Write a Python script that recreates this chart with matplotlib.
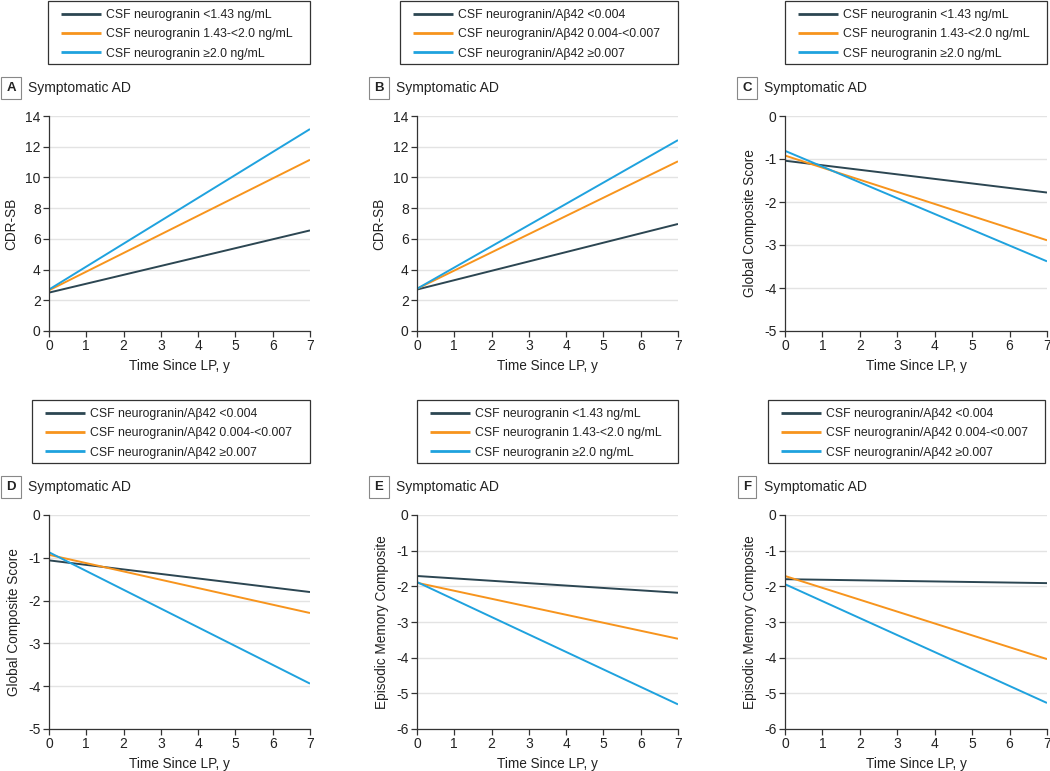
import matplotlib
matplotlib.use("Agg")
import matplotlib.pyplot as plt
import matplotlib.patches as mpatches

plt.rcParams['font.family'] = ['Liberation Sans', 'DejaVu Sans']
plt.rcParams['axes.unicode_minus'] = False

# time since LP (years), fitted trajectories
years = [0, 7]

ng_labels = ["CSF neurogranin <1.43 ng/mL",
             "CSF neurogranin 1.43-<2.0 ng/mL",
             "CSF neurogranin \u22652.0 ng/mL"]
ratio_labels = ["CSF neurogranin/A\u03b242 <0.004",
                "CSF neurogranin/A\u03b242 0.004-<0.007",
                "CSF neurogranin/A\u03b242 \u22650.007"]

# A: CDR-SB by neurogranin
a_low = [2.5, 6.55]
a_mid = [2.65, 11.15]
a_high = [2.7, 13.15]
# B: CDR-SB by neurogranin/Ab42
b_low = [2.7, 6.97]
b_mid = [2.75, 11.05]
b_high = [2.75, 12.43]
# C: global composite by neurogranin
c_low = [-1.04, -1.78]
c_mid = [-0.92, -2.89]
c_high = [-0.81, -3.38]
# D: global composite by neurogranin/Ab42
d_low = [-1.06, -1.80]
d_mid = [-0.93, -2.29]
d_high = [-0.87, -3.94]
# E: episodic memory by neurogranin
e_low = [-1.71, -2.18]
e_mid = [-1.90, -3.47]
e_high = [-1.88, -5.31]
# F: episodic memory by neurogranin/Ab42
f_low = [-1.80, -1.91]
f_mid = [-1.71, -4.04]
f_high = [-1.94, -5.27]

colors = ["#2c4652", "#f7941d", "#1fa2de"]
txt = "#222222"

W, H = 1050, 771
fig = plt.figure(figsize=(W / 100, H / 100), dpi=100)


def rect(x0, x1, y0, y1):
    return [x0 / W, 1 - y1 / H, (x1 - x0) / W, (y1 - y0) / H]


panels = [
    ("A", a_low, a_mid, a_high, ng_labels, "CDR-SB", (0, 14, 2), (49, 310, 116, 331), (48, 310, 0), 0),
    ("B", b_low, b_mid, b_high, ratio_labels, "CDR-SB", (0, 14, 2), (417, 678, 116, 331), (400, 678, 0), 368),
    ("C", c_low, c_mid, c_high, ng_labels, "Global Composite Score", (-5, 0, 1), (785, 1047, 116, 331), (785, 1047, 0), 736),
    ("D", d_low, d_mid, d_high, ratio_labels, "Global Composite Score", (-5, 0, 1), (49, 310, 515, 729), (32, 310, 399), 0),
    ("E", e_low, e_mid, e_high, ng_labels, "Episodic Memory Composite", (-6, 0, 1), (417, 678, 515, 729), (417, 678, 399), 368),
    ("F", f_low, f_mid, f_high, ratio_labels, "Episodic Memory Composite", (-6, 0, 1), (785, 1047, 515, 729), (768, 1045, 399), 736),
]

for letter, lo, mid, hi, labels, ylabel, yr, pos, leg, lx in panels:
    ax = fig.add_axes(rect(*pos))
    lines = []
    for vals, c, lab in zip([lo, mid, hi], colors, labels):
        ln, = ax.plot(years, vals, color=c, lw=1.4, label=lab, solid_capstyle="butt")
        lines.append(ln)
    ax.set_xlim(0, 7)
    ax.set_ylim(yr[0], yr[1])
    ax.set_xticks(range(0, 8))
    ax.set_yticks(range(yr[0], yr[1] + 1, yr[2]))
    ax.grid(axis="y", color="#e3e3e3", lw=1)
    ax.set_axisbelow(True)
    for s in ["top", "right"]:
        ax.spines[s].set_visible(False)
    for s in ["left", "bottom"]:
        ax.spines[s].set_color("#333333")
        ax.spines[s].set_linewidth(0.9)
    ax.tick_params(direction="out", length=4, width=0.9, color="#333333",
                   labelsize=10, labelcolor=txt, pad=2)
    ax.set_xlabel("Time Since LP, y", fontsize=9.8, color=txt, labelpad=4)
    ax.set_ylabel(ylabel, fontsize=9.8, color=txt, labelpad=5)

    # legend box drawn separately so the padding matches
    lx0, lx1, ly = leg
    fig.patches.append(mpatches.Rectangle((lx0 / W, 1 - (ly + 64) / H), (lx1 - lx0) / W, 63 / H,
                                          transform=fig.transFigure, fill=False,
                                          ec="#333333", lw=0.9))
    ax.legend(handles=lines, loc="upper left",
              bbox_to_anchor=((lx0 + 13) / W, 1 - (ly + 9) / H),
              bbox_transform=fig.transFigure, frameon=False,
              fontsize=8.8, handlelength=3.3, handletextpad=0.4,
              labelspacing=0.6, borderpad=0, borderaxespad=0)
    for t in ax.get_legend().get_lines():
        t.set_linewidth(2)
    for t in ax.get_legend().get_texts():
        t.set_color(txt)

    ty = 88 if pos[2] < 400 else 487
    fig.text((lx + 11) / W, 1 - ty / H, letter, fontsize=9.5, fontweight="bold",
             ha="center", va="center", color=txt,
             bbox=dict(boxstyle="square,pad=0.4", fc="white", ec="#888888", lw=0.8))
    fig.text((lx + 28) / W, 1 - ty / H, "Symptomatic AD", fontsize=10,
             ha="left", va="center", color=txt)

fig.savefig("out.png", dpi=100)
